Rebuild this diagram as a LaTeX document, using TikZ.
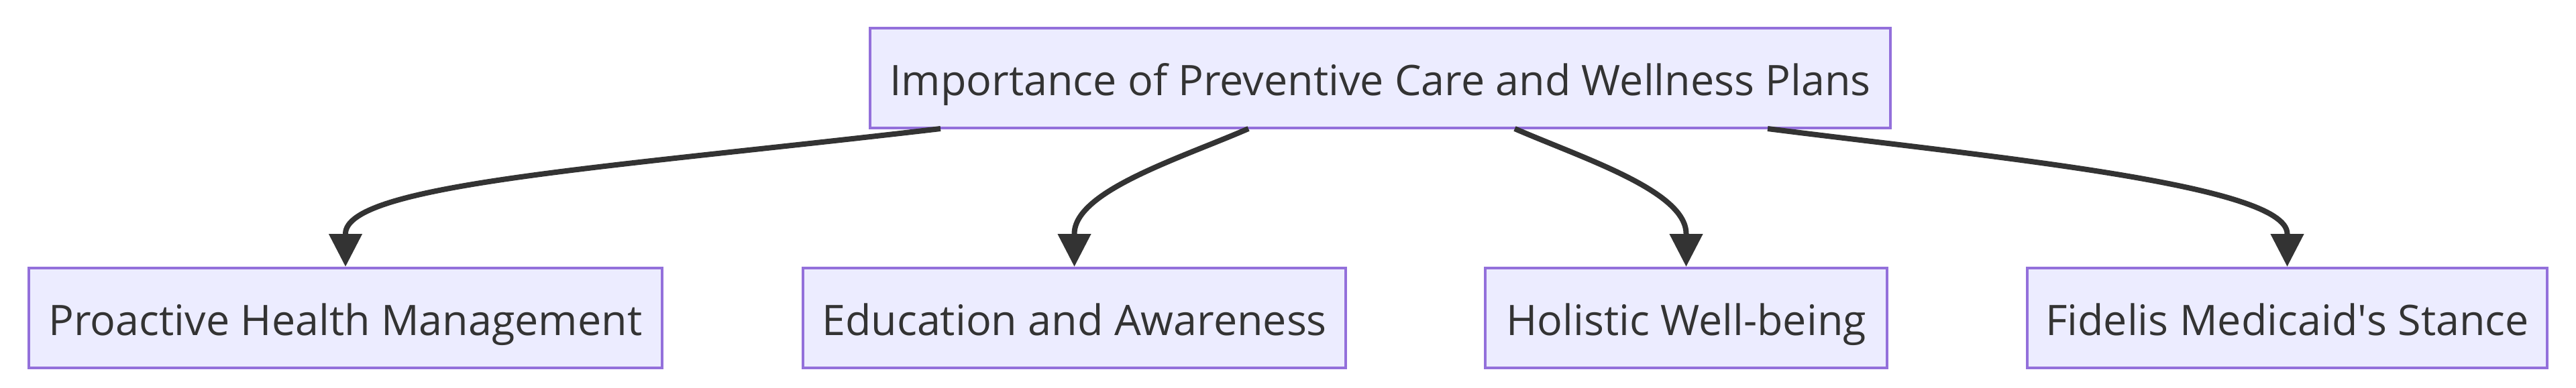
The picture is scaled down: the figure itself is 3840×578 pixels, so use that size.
\documentclass[tikz,border=0pt]{standalone}
\usepackage{fontspec}
\setmainfont{Open Sans}
\usetikzlibrary{arrows.meta}
\definecolor{boxfill}{HTML}{ECECFF}
\definecolor{boxline}{HTML}{9370DB}
\definecolor{ink}{HTML}{333333}
\tikzset{
  box/.style={draw=boxline, fill=boxfill, line width=1pt, rectangle, inner sep=0pt,
    minimum height=37.25pt, text=ink, text height=17.3pt, text depth=4.2pt,
    font=\fontsize{15.7pt}{19pt}\selectfont},
  link/.style={draw=ink, line width=2pt},
  tip/.style={-{Triangle[length=12.25pt, width=12pt]}},
}
\begin{document}
\begin{tikzpicture}[x=0.25pt, y=-0.25pt]
\useasboundingbox (0,0) rectangle (3840,578);
\node[box, minimum width=380.25pt] (top) at (2057.5,116.5) {Importance of Preventive Care and Wellness Plans};
\node[box, minimum width=236pt] (b1) at (515,474.5) {Proactive Health Management};
\node[box, minimum width=202.25pt] (b2) at (1601.5,474.5) {Education and Awareness};
\node[box, minimum width=149.75pt] (b3) at (2513.5,474.5) {Holistic Well-being};
\node[box, minimum width=193.75pt] (b4) at (3409.5,474.5) {Fidelis Medicaid\textquotesingle s Stance};
\coordinate (s1) at (1402,192);
\coordinate (s2) at (1861,192);
\coordinate (s3) at (2258,192);
\coordinate (s4) at (2635,192);
\coordinate (e1) at (515,349);
\coordinate (e2) at (1601.5,349);
\coordinate (e3) at (2513.5,349);
\coordinate (e4) at (3409.5,349);
\draw[link, tip] (s1) .. controls (900,251) and (515,275) .. (e1) -- (b1.north);
\draw[link, tip] (s2) .. controls (1760,236) and (1601.5,285) .. (e2) -- (b2.north);
\draw[link, tip] (s3) .. controls (2359,236) and (2513.5,285) .. (e3) -- (b3.north);
\draw[link, tip] (s4) .. controls (2965,234) and (3409.5,275) .. (e4) -- (b4.north);
\end{tikzpicture}
\end{document}
